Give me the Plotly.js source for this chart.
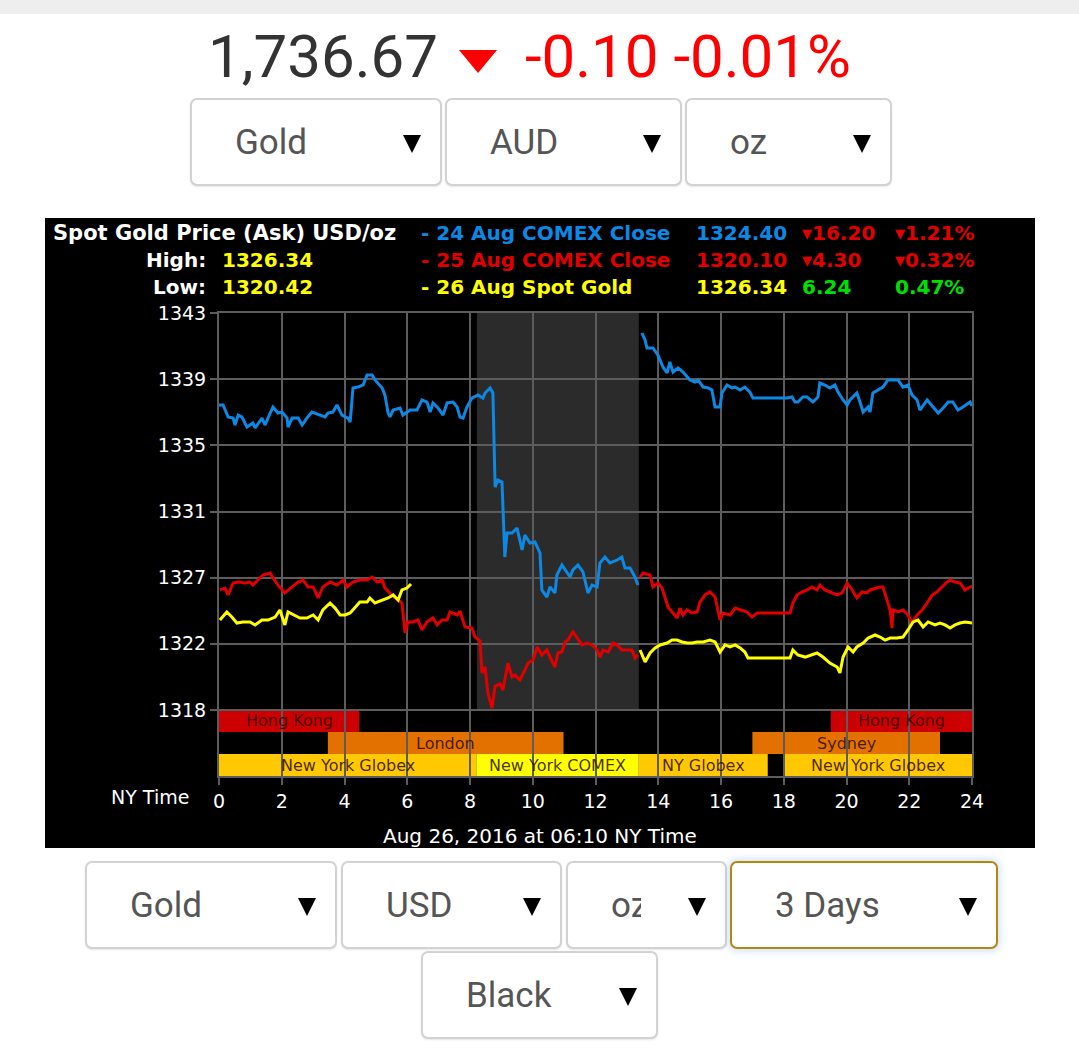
<!DOCTYPE html>
<html><head><meta charset="utf-8">
<script src="https://cdn.plot.ly/plotly-3.0.1.min.js"></script>
<style>
html,body{margin:0;padding:0;background:#fff;width:1079px;height:1064px;overflow:hidden;font-family:Roboto,"Noto Sans",sans-serif;}
#topbar{position:absolute;left:0;top:0;width:1079px;height:14px;background:#eeeeee;}
.price{position:absolute;top:27px;font-size:60px;line-height:60px;white-space:nowrap;}
.tri{position:absolute;left:459px;top:50px;width:0;height:0;border-left:19px solid transparent;border-right:19px solid transparent;border-top:23px solid #ff0000;}
.sel{position:absolute;box-sizing:border-box;height:88px;border:2px solid #d2d2d2;border-radius:7px;background:#fff;box-shadow:0 1px 2px rgba(0,0,0,0.10);}
.sel .t{position:absolute;left:43px;top:22px;font-size:35px;line-height:42px;color:#555;white-space:nowrap;}
.sel .clip{overflow:hidden;width:30px;}
.sel .a{position:absolute;right:19px;top:35px;width:0;height:0;border-left:9px solid transparent;border-right:9px solid transparent;border-top:18px solid #000;}
#chart{position:absolute;left:45px;top:218px;width:990px;height:630px;background:#000;}
</style>
</head>
<body>
<div id="topbar"></div>
<div class="price" style="left:208px;color:#333;">1,736.67</div>
<div class="tri"></div>
<div class="price" style="left:525px;color:#ff0000;">-0.10 -0.01%</div>

<div class="sel" style="left:190px;top:98px;width:252px;"><span class="t">Gold</span><span class="a"></span></div>
<div class="sel" style="left:445px;top:98px;width:237px;"><span class="t">AUD</span><span class="a"></span></div>
<div class="sel" style="left:685px;top:98px;width:207px;"><span class="t">oz</span><span class="a"></span></div>

<div id="chart"></div>

<div class="sel" style="left:85px;top:861px;width:252px;"><span class="t">Gold</span><span class="a"></span></div>
<div class="sel" style="left:341px;top:861px;width:221px;"><span class="t">USD</span><span class="a"></span></div>
<div class="sel" style="left:566px;top:861px;width:161px;"><span class="t clip">oz</span><span class="a"></span></div>
<div class="sel" style="left:730px;top:861px;width:268px;border-color:#b8860b;box-shadow:0 0 7px 2px rgba(140,190,255,0.45);"><span class="t">3 Days</span><span class="a"></span></div>
<div class="sel" style="left:421px;top:951px;width:237px;"><span class="t">Black</span><span class="a"></span></div>

<script>
// ---------- data ----------
const hourTicks = [0,2,4,6,8,10,12,14,16,18,20,22,24];
const priceTickVals = [1318.1,1322.3,1326.5,1330.7,1334.9,1339.1,1343.3];
const priceTickText = ['1318','1322','1327','1331','1335','1339','1343'];
const priceAxisRange = [1313.91,1343.3];

const blue1H = [0.00,0.13,0.29,0.45,0.51,0.61,0.73,0.89,1.08,1.15,1.37,1.47,1.63,1.72,1.88,2.01,2.17,2.20,2.33,2.52,2.65,2.80,2.96,3.22,3.38,3.47,3.63,3.76,3.92,4.11,4.18,4.27,4.43,4.59,4.72,4.88,4.97,5.20,5.29,5.39,5.45,5.55,5.77,5.86,6.09,6.31,6.47,6.63,6.73,6.82,6.98,7.14,7.27,7.46,7.59,7.68,7.78,7.90,8.06,8.25,8.41,8.48,8.64,8.73,8.80,8.89,9.02,9.11,9.18,9.34,9.50,9.66,9.75,9.91,10.07,10.23,10.29,10.45,10.55,10.71,10.77,10.93,11.09,11.19,11.28,11.44,11.60,11.76,11.89,12.05,12.14,12.30,12.46,12.69,12.84,12.94,13.10,13.26,13.35];
const blue1P = [1337.46,1337.46,1336.70,1336.63,1336.19,1336.82,1336.70,1336.06,1336.32,1336.00,1336.63,1336.19,1336.95,1337.33,1336.95,1337.01,1336.63,1336.06,1336.63,1336.63,1336.19,1336.63,1337.01,1336.82,1336.70,1336.95,1337.01,1337.46,1336.82,1336.63,1336.38,1338.54,1338.60,1338.73,1339.36,1339.36,1339.05,1338.54,1338.09,1336.95,1336.70,1337.14,1337.27,1336.82,1337.14,1337.14,1337.78,1337.65,1337.01,1337.59,1337.27,1336.82,1337.59,1337.65,1337.33,1336.70,1336.63,1337.33,1337.90,1338.09,1337.90,1338.22,1338.54,1338.22,1332.25,1332.70,1332.57,1327.81,1329.33,1329.33,1329.65,1328.26,1329.21,1328.70,1328.76,1328.07,1325.72,1325.27,1325.91,1325.53,1326.67,1327.30,1326.86,1326.54,1326.99,1327.30,1326.86,1325.53,1326.03,1325.91,1327.43,1327.81,1327.43,1327.62,1327.81,1327.11,1327.11,1326.54,1326.03];
const blue2H = [13.48,13.58,13.64,13.83,13.99,14.15,14.28,14.37,14.47,14.63,14.79,15.01,15.17,15.27,15.43,15.59,15.71,15.81,15.97,16.03,16.19,16.35,16.45,16.61,16.76,16.92,17.02,18.10,18.26,18.36,18.45,18.61,18.74,18.84,18.93,19.09,19.15,19.31,19.47,19.63,19.73,19.89,20.02,20.11,20.33,20.43,20.53,20.69,20.75,20.84,21.00,21.16,21.32,21.48,21.64,21.80,21.96,22.09,22.25,22.34,22.57,22.76,22.92,23.08,23.24,23.39,23.55,23.71,23.94,24.00];
const blue2P = [1342.03,1341.58,1341.08,1341.08,1340.63,1339.87,1339.49,1340.19,1339.55,1339.81,1339.55,1339.05,1338.92,1339.05,1338.60,1338.54,1338.41,1337.33,1337.33,1338.22,1338.73,1338.54,1338.60,1338.41,1338.60,1338.28,1337.90,1337.90,1337.97,1337.65,1337.65,1337.97,1337.97,1337.78,1337.65,1337.97,1338.86,1338.73,1338.54,1338.73,1338.28,1337.78,1337.46,1337.78,1338.22,1337.65,1337.01,1337.33,1337.01,1338.22,1338.41,1338.60,1339.05,1339.05,1339.05,1338.60,1338.73,1338.09,1337.78,1337.14,1337.78,1337.33,1336.95,1337.27,1337.65,1337.65,1337.14,1337.33,1337.65,1337.40];

const red1H = [0.03,0.19,0.29,0.45,0.61,0.83,0.99,1.08,1.24,1.40,1.63,1.72,1.88,2.10,2.33,2.52,2.68,2.84,3.00,3.16,3.31,3.54,3.76,3.95,4.08,4.27,4.49,4.72,4.88,5.04,5.20,5.29,5.51,5.71,5.83,5.93,6.02,6.18,6.34,6.47,6.63,6.82,6.95,7.11,7.27,7.36,7.59,7.68,7.84,8.06,8.16,8.32,8.38,8.48,8.57,8.70,8.80,8.96,9.05,9.21,9.34,9.43,9.59,9.75,9.85,10.01,10.14,10.29,10.45,10.55,10.71,10.80,10.93,11.03,11.12,11.28,11.41,11.57,11.73,11.89,12.05,12.14,12.24,12.40,12.56,12.69,12.84,13.00,13.16,13.26,13.35];
const red1P = [1325.72,1325.84,1325.40,1326.16,1326.22,1326.16,1326.22,1326.03,1326.35,1326.67,1326.80,1326.48,1326.03,1325.53,1325.91,1326.22,1326.35,1325.91,1325.91,1325.21,1325.91,1326.22,1326.03,1326.35,1325.91,1326.22,1326.35,1326.35,1326.54,1326.22,1326.35,1325.84,1325.40,1325.08,1324.89,1322.99,1323.69,1323.69,1323.81,1323.18,1323.69,1323.94,1323.50,1323.81,1323.81,1324.32,1324.13,1324.38,1323.37,1323.30,1322.73,1322.48,1320.45,1320.83,1319.18,1318.23,1319.62,1319.75,1319.37,1321.08,1320.19,1320.32,1320.00,1320.64,1321.08,1321.27,1322.10,1321.59,1321.91,1321.46,1320.83,1321.72,1321.78,1322.42,1322.54,1323.05,1322.67,1322.23,1322.35,1322.23,1321.91,1321.46,1321.91,1321.78,1322.35,1322.23,1321.91,1321.91,1321.91,1321.40,1321.59];
const red2H = [13.42,13.51,13.74,13.83,13.99,14.12,14.31,14.44,14.60,14.69,14.79,14.92,15.08,15.24,15.33,15.49,15.65,15.81,15.90,15.97,16.06,16.29,16.45,16.67,16.83,16.99,17.15,18.20,18.29,18.42,18.58,18.74,18.90,19.06,19.15,19.31,19.47,19.70,19.86,20.02,20.18,20.33,20.49,20.65,20.75,20.91,21.07,21.16,21.29,21.39,21.45,21.48,21.64,21.80,21.96,22.09,22.25,22.41,22.57,22.73,22.88,23.04,23.20,23.30,23.46,23.62,23.78,24.00];
const red2P = [1326.54,1326.80,1326.67,1325.91,1326.16,1325.84,1324.64,1324.32,1323.94,1324.57,1324.13,1324.45,1324.26,1324.32,1324.95,1325.40,1325.59,1325.27,1324.32,1323.81,1324.26,1324.13,1324.57,1324.45,1324.32,1324.00,1324.26,1324.26,1324.89,1325.40,1325.59,1325.72,1325.91,1325.72,1326.03,1325.72,1325.59,1325.40,1325.53,1326.16,1325.72,1325.21,1325.59,1325.53,1325.72,1325.84,1325.91,1325.91,1325.08,1324.45,1323.30,1324.45,1324.32,1324.45,1324.13,1323.62,1324.13,1324.45,1324.89,1325.40,1325.59,1325.91,1326.22,1326.35,1326.22,1326.16,1325.72,1325.97];

const yellow1H = [0.03,0.25,0.41,0.57,0.76,0.99,1.15,1.37,1.56,1.79,1.94,2.10,2.20,2.42,2.58,2.80,3.00,3.16,3.31,3.54,3.70,3.86,4.02,4.18,4.33,4.49,4.72,4.81,4.97,5.20,5.39,5.55,5.71,5.83,5.99,6.12];
const yellow1P = [1323.81,1324.32,1324.00,1323.62,1323.69,1323.69,1323.50,1323.81,1323.81,1324.00,1324.45,1323.50,1324.32,1324.13,1323.94,1323.94,1324.13,1323.81,1324.45,1324.89,1324.57,1324.13,1324.13,1324.26,1324.57,1324.95,1324.95,1325.21,1324.89,1325.08,1325.21,1325.40,1325.08,1325.72,1325.84,1326.10];
const yellow2H = [13.42,13.58,13.74,13.90,14.06,14.28,14.44,14.60,14.76,14.92,15.08,15.24,15.43,15.65,15.81,15.97,16.13,16.29,16.45,16.61,16.76,16.86,17.02,18.20,18.29,18.45,18.68,18.84,19.06,19.25,19.47,19.70,19.79,19.89,20.05,20.21,20.33,20.53,20.69,20.91,21.07,21.23,21.39,21.61,21.80,21.96,22.12,22.28,22.44,22.60,22.82,22.98,23.14,23.30,23.46,23.62,23.78,24.00];
const yellow2P = [1321.91,1321.15,1321.72,1322.04,1322.23,1322.35,1322.54,1322.54,1322.42,1322.35,1322.35,1322.42,1322.42,1322.54,1322.42,1321.78,1322.23,1322.10,1322.23,1322.04,1321.78,1321.40,1321.40,1321.40,1321.91,1321.59,1321.46,1321.59,1321.72,1321.46,1321.08,1320.83,1320.45,1321.46,1322.10,1321.78,1322.10,1322.35,1322.67,1322.86,1322.73,1322.54,1322.67,1322.67,1322.73,1323.18,1323.69,1323.81,1323.37,1323.69,1323.50,1323.62,1323.50,1323.30,1323.50,1323.62,1323.69,1323.62];

const sessionNames = ['Hong Kong','Hong Kong','London','Sydney','New York Globex','New York COMEX','NY Globex','New York Globex'];
const sessionStart = [0,19.5,3.47,17.0,0,8.22,13.38,18.0];
const sessionEnd   = [4.47,24,10.98,22.98,8.22,13.38,17.49,24];
const sessionRow   = [0,0,1,1,2,2,2,2];

// ---------- styles ----------
const C_BLUE='#0d88e3', C_RED='#e00000', C_YEL='#ffff00', C_GRN='#00e000', C_GRID='#5c5c5c';
const sessionColor = {'Hong Kong':'#cc0000','London':'#e37100','Sydney':'#e37100','New York Globex':'#ffc800','NY Globex':'#ffc800','New York COMEX':'#ffff00'};
const FONT = 'DejaVu Sans, Verdana, sans-serif';

function seg(x,y,c){return {x:x,y:y,type:'scatter',mode:'lines',line:{color:c,width:3},hoverinfo:'skip',showlegend:false};}
const traces = [seg(red1H,red1P,C_RED),seg(red2H,red2P,C_RED),seg(yellow1H,yellow1P,C_YEL),seg(yellow2H,yellow2P,C_YEL),seg(blue1H,blue1P,C_BLUE),seg(blue2H,blue2P,C_BLUE)];

// session rows fill the band below the lowest price tick
const rowH = (priceTickVals[0]-priceAxisRange[0])/3;
const shapes = [];
const comexIdx = sessionNames.indexOf('New York COMEX');
shapes.push({type:'rect',xref:'x',yref:'y',x0:sessionStart[comexIdx],x1:sessionEnd[comexIdx],y0:priceTickVals[0],y1:priceAxisRange[1],fillcolor:'#2b2b2b',line:{width:0},layer:'below'});
const annotations = [];
sessionNames.forEach((n,i)=>{
  const top = priceTickVals[0]-sessionRow[i]*rowH;
  shapes.push({type:'rect',xref:'x',yref:'y',x0:sessionStart[i],x1:sessionEnd[i],y0:top-rowH,y1:top,fillcolor:sessionColor[n],line:{width:0},layer:'below'});
  annotations.push({xref:'x',yref:'y',x:(sessionStart[i]+sessionEnd[i])/2,y:top-rowH/2,text:n,showarrow:false,font:{family:FONT,size:16,color:'rgba(45,10,0,0.85)'},xanchor:'center',yanchor:'middle'});
});

// header text (page pixel -> paper fraction of the plot area)
const PX0=219, PW=753, PY0=776, PH=463;
function ax(px){return (px-PX0)/PW;}
function ay(py){return (PY0-py)/PH;}
function txt(s,px,py,color,anchor,bold,size){
  annotations.push({xref:'paper',yref:'paper',x:ax(px),y:ay(py),text:bold?'<b>'+s+'</b>':s,showarrow:false,xanchor:anchor,yanchor:'middle',font:{family:FONT,size:size||20,color:color}});
}
txt('Spot Gold Price (Ask) USD/oz',51,233,'#ffffff','left',true,21);
txt('High:',208,260,'#ffffff','right',true);
txt('1326.34',220,260,C_YEL,'left',true);
txt('Low:',208,287,'#ffffff','right',true);
txt('1320.42',220,287,C_YEL,'left',true);
txt('- 24 Aug COMEX Close',419,233,C_BLUE,'left',true);
txt('- 25 Aug COMEX Close',419,260,C_RED,'left',true);
txt('- 26 Aug Spot Gold',419,287,C_YEL,'left',true);
txt('1324.40',694,233,C_BLUE,'left',true);
txt('1320.10',694,260,C_RED,'left',true);
txt('1326.34',694,287,C_YEL,'left',true);
txt('▾16.20',800,233,C_RED,'left',true);
txt('▾4.30',800,260,C_RED,'left',true);
txt('6.24',800,287,C_GRN,'left',true);
txt('▾1.21%',893,233,C_RED,'left',true);
txt('▾0.32%',893,260,C_RED,'left',true);
txt('0.47%',893,287,C_GRN,'left',true);
txt('NY Time',191,797,'#ffffff','right',false,19);
txt('Aug 26, 2016 at 06:10 NY Time',540,836,'#ffffff','center',false,20);

const axisCommon = {showgrid:true,gridcolor:C_GRID,gridwidth:2,zeroline:false,showline:true,linecolor:C_GRID,linewidth:2,mirror:true,
  ticks:'outside',ticklen:7,tickwidth:2,tickcolor:C_GRID,tickfont:{family:FONT,size:19,color:'#ffffff'},fixedrange:true};

const layout = {
  width:990,height:630,margin:{l:174,r:63,t:95,b:72,pad:0},
  paper_bgcolor:'#000000',plot_bgcolor:'#000000',
  font:{family:FONT,color:'#ffffff'},
  xaxis:Object.assign({},axisCommon,{range:[0,24],tickmode:'array',tickvals:hourTicks,ticktext:hourTicks.map(String)}),
  yaxis:Object.assign({},axisCommon,{range:priceAxisRange,tickmode:'array',tickvals:priceTickVals,ticktext:priceTickText}),
  shapes:shapes,annotations:annotations,showlegend:false
};
Plotly.newPlot('chart',traces,layout,{staticPlot:true,displayModeBar:false});
</script>
</body></html>
